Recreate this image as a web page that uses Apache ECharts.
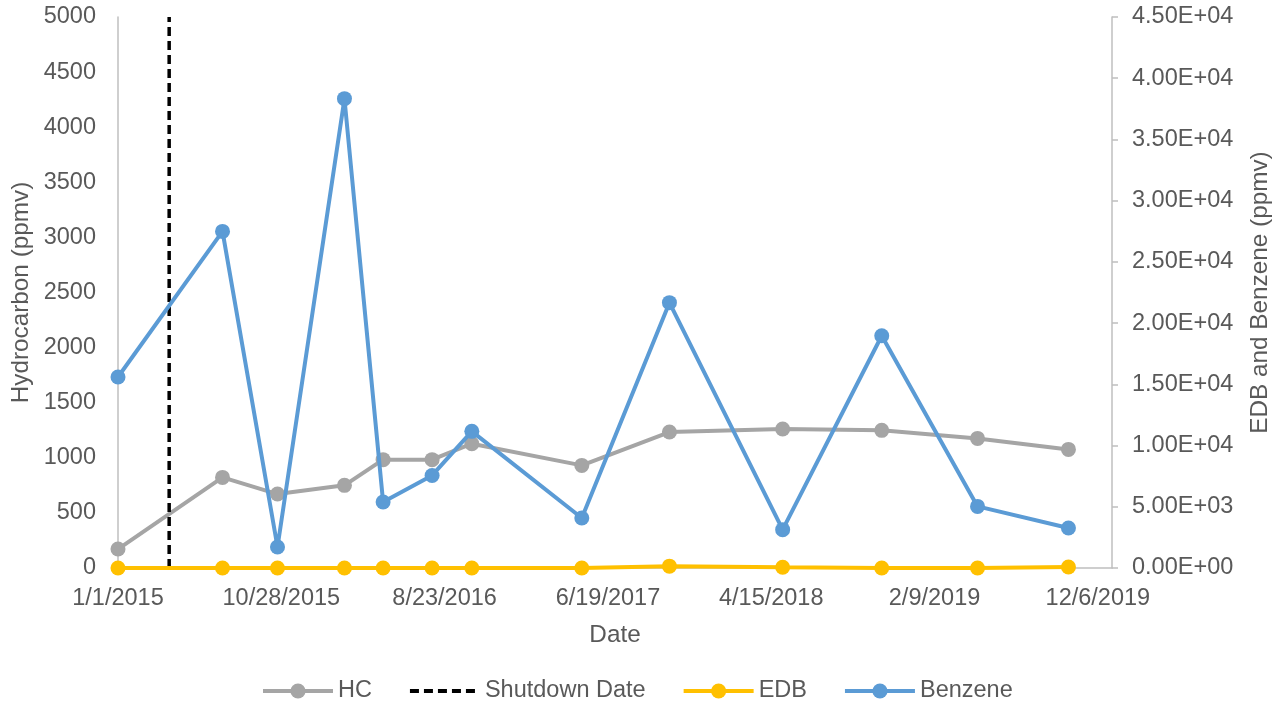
<!DOCTYPE html>
<html><head><meta charset="utf-8">
<script src="https://cdn.jsdelivr.net/npm/echarts@6/dist/echarts.min.js"></script>
<style>html,body{margin:0;padding:0;background:#fff}#c{width:1285px;height:704px}</style>
</head><body><div id="c"></div>
<script>
// ---- data ----
const sampleDates = ['2015-01-01','2015-07-12','2015-10-21','2016-02-21','2016-05-02','2016-07-31','2016-10-12','2017-05-02','2017-10-10','2018-05-06','2018-11-04','2019-04-29','2019-10-13'];
const hcValues = [172, 822, 671, 750, 983, 983, 1128, 931, 1234, 1261, 1249, 1176, 1076];
const edbValues = [0, 0, 0, 0, 0, 0, 0, 0, 150, 60, 0, 0, 80];
const benzeneValues = [15600, 27490, 1715, 38330, 5390, 7560, 11160, 4080, 21670, 3130, 18970, 5030, 3270];
const shutdownDate = '2015-04-05';
const shutdownRange = [0, 5000];
const axisStartDate = '2015-01-01';
const axisEndDate = '2020-01-01';
const xTickStepDays = 300;
const xTickLabels = ['1/1/2015', '10/28/2015', '8/23/2016', '6/19/2017', '4/15/2018', '2/9/2019', '12/6/2019'];
const leftAxisRange = [0, 5000, 500];
const rightAxisRange = [0, 45000, 5000];

function dayOf(s) {
  const p = s.split('-').map(Number);
  const a = axisStartDate.split('-').map(Number);
  return Math.round((Date.UTC(p[0], p[1] - 1, p[2]) - Date.UTC(a[0], a[1] - 1, a[2])) / 86400000);
}
function sciLabel(v) {
  if (v === 0) return '0.00E+00';
  const e = Math.floor(Math.log10(Math.abs(v)));
  const m = v / Math.pow(10, e);
  return m.toFixed(2) + 'E' + (e < 0 ? '-' : '+') + String(Math.abs(e)).padStart(2, '0');
}
const days = sampleDates.map(dayOf);
const zip = vals => days.map((d, i) => [d, vals[i]]);
const sd = dayOf(shutdownDate);

const txt = '#595959';
const axisGray = '#BFBFBF';
const FS = 23.5;
const font = 'Liberation Sans, Arial, sans-serif';

const chart = echarts.init(document.getElementById('c'), null, {renderer: 'canvas'});
chart.setOption({
  animation: false,
  backgroundColor: '#ffffff',
  textStyle: {fontFamily: font},
  grid: {left: 118, right: 173, top: 17, bottom: 136, containLabel: false, outerBoundsMode: 'none'},
  legend: {
    left: 256, top: 674,
    itemWidth: 70, itemHeight: 19, itemGap: 36,
    textStyle: {fontSize: FS, color: txt, fontFamily: font},
    data: [
      {name: 'HC', lineStyle: {width: 4}},
      {name: 'Shutdown Date', itemStyle: {opacity: 0}, lineStyle: {width: 4}},
      {name: 'EDB', lineStyle: {width: 4}},
      {name: 'Benzene', lineStyle: {width: 4}}
    ]
  },
  xAxis: {
    type: 'value',
    min: 0, max: dayOf(axisEndDate), interval: xTickStepDays,
    name: 'Date', nameLocation: 'middle', nameGap: 55,
    nameTextStyle: {fontSize: 24.3, color: txt, fontFamily: font},
    axisLine: {show: true, lineStyle: {color: axisGray, width: 1.5}},
    axisTick: {show: false},
    splitLine: {show: false},
    axisLabel: {
      fontSize: FS, color: txt, margin: 19, fontFamily: font,
      showMaxLabel: false,
      formatter: v => (v % xTickStepDays === 0 ? (xTickLabels[v / xTickStepDays] || '') : '')
    }
  },
  yAxis: [{
    type: 'value', position: 'left',
    min: leftAxisRange[0], max: leftAxisRange[1], interval: leftAxisRange[2],
    name: 'Hydrocarbon (ppmv)', nameLocation: 'middle', nameRotate: 90, nameGap: 84,
    nameTextStyle: {fontSize: 24.3, color: txt, fontFamily: font},
    axisLine: {show: true, lineStyle: {color: axisGray, width: 1.5}},
    axisTick: {show: false},
    splitLine: {show: false},
    axisLabel: {fontSize: FS, color: txt, margin: 22, fontFamily: font, formatter: v => String(v)}
  }, {
    type: 'value', position: 'right',
    min: rightAxisRange[0], max: rightAxisRange[1], interval: rightAxisRange[2],
    name: 'EDB and Benzene (ppmv)', nameLocation: 'middle', nameRotate: 90, nameGap: 136,
    nameTextStyle: {fontSize: 24.3, color: txt, fontFamily: font},
    axisLine: {show: true, lineStyle: {color: axisGray, width: 1.5}},
    axisTick: {show: true, inside: false, length: 6, lineStyle: {color: axisGray, width: 1.5}},
    splitLine: {show: false},
    axisLabel: {fontSize: FS, color: txt, margin: 20, fontFamily: font, formatter: sciLabel}
  }],
  series: [{
    name: 'HC', type: 'line', yAxisIndex: 0,
    data: zip(hcValues),
    symbol: 'circle', symbolSize: 15,
    itemStyle: {color: '#A5A5A5'},
    lineStyle: {color: '#A5A5A5', width: 4},
    z: 2
  }, {
    name: 'Shutdown Date', type: 'line', yAxisIndex: 0,
    data: [[sd, shutdownRange[0]], [sd, shutdownRange[1]]],
    symbol: 'none',
    itemStyle: {color: '#000000'},
    lineStyle: {color: '#000000', width: 3.5, type: [9, 5]},
    z: 3
  }, {
    name: 'EDB', type: 'line', yAxisIndex: 1,
    data: zip(edbValues),
    symbol: 'circle', symbolSize: 15,
    itemStyle: {color: '#FFC000'},
    lineStyle: {color: '#FFC000', width: 4},
    z: 4
  }, {
    name: 'Benzene', type: 'line', yAxisIndex: 1,
    data: zip(benzeneValues),
    symbol: 'circle', symbolSize: 15,
    itemStyle: {color: '#5B9BD5'},
    lineStyle: {color: '#5B9BD5', width: 4},
    z: 5
  }]
});
</script>
</body></html>
